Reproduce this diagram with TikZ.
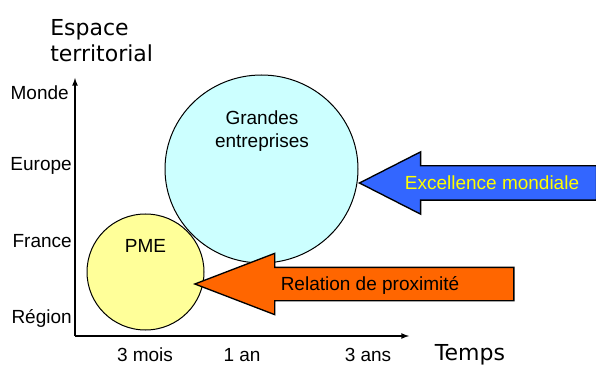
\documentclass[tikz,border=0pt]{standalone}
\usepackage{fontspec}
\setmainfont{Liberation Sans}
\newfontfamily\comicfont{DejaVu Sans}
\usepackage{xcolor}
\usepackage{tikz}
\usetikzlibrary{shapes,arrows,positioning,calc}

\definecolor{bigcyan}{HTML}{CCFFFF}
\definecolor{pmeyellow}{HTML}{FFFF99}
\definecolor{arrowblue}{HTML}{3366FF}
\definecolor{arroworange}{HTML}{FF6600}
\definecolor{textyellow}{HTML}{FFFF00}

\begin{document}
\begin{tikzpicture}[x=0.75pt, y=-0.75pt,
    lbl/.style={font=\fontsize{14.25}{17}\selectfont, inner sep=0pt},
    hand/.style={font=\comicfont\fontsize{16.5}{19.5}\selectfont, inner sep=0pt},
    bubble/.style={ellipse, draw, line width=0.75pt, inner sep=0pt},
    bigarrow/.style={single arrow, draw, line width=1pt, inner xsep=0pt,
        shape border rotate=180, single arrow head extend=10.5pt, anchor=tip},
    axis/.style={-latex, line width=1pt}]
    \useasboundingbox (0,0) rectangle (596,367);

    % Bubbles
    \node[bubble, fill=bigcyan, minimum width=144.75pt, minimum height=141pt] (GE) at (261.5,169) {};
    \node[bubble, fill=pmeyellow, minimum width=87.75pt, minimum height=87pt] (PME) at (145.5,272) {};
    \node[lbl, align=center] (GEtxt) at (262,131) {Grandes\\entreprises};
    \node[lbl] (PMEtxt) at (145.5,246) {PME};

    % Axes
    \coordinate (O) at (75,336);
    \coordinate (Ytop) at (75,78);
    \coordinate (Xend) at (409,336);
    \draw[axis] (O) -- (Ytop);
    \draw[axis] (O) -- (Xend);

    % Axis labels
    \node[hand, align=left, anchor=north west] (espace) at (50,19) {Espace\\territorial};
    \node[hand] (temps) at (470,355) {Temps};
    \node[lbl, anchor=east] (monde) at (69,93) {Monde};
    \node[lbl, anchor=east] (europe) at (72,166) {Europe};
    \node[lbl, anchor=east] (france) at (72,241) {France};
    \node[lbl, anchor=east] (region) at (72,318) {Région};
    \node[lbl] (mois) at (145,355) {3 mois};
    \node[lbl] (an) at (242,355) {1 an};
    \node[lbl] (ans) at (368,355) {3 ans};

    % Arrows
    \node[bigarrow, fill=arrowblue, inner ysep=12.375pt, minimum height=177.75pt,
        minimum width=45.75pt, single arrow tip angle=54] (excel) at (358,183) {};
    \node[lbl, text=textyellow] (exceltxt) at (492,183) {Excellence mondiale};
    \node[bigarrow, fill=arroworange, inner ysep=12pt, minimum height=239.25pt,
        minimum width=45pt, single arrow tip angle=42] (prox) at (193,284) {};
    \node[lbl] (proxtxt) at (370,285) {Relation de proximité};

\end{tikzpicture}
\end{document}
